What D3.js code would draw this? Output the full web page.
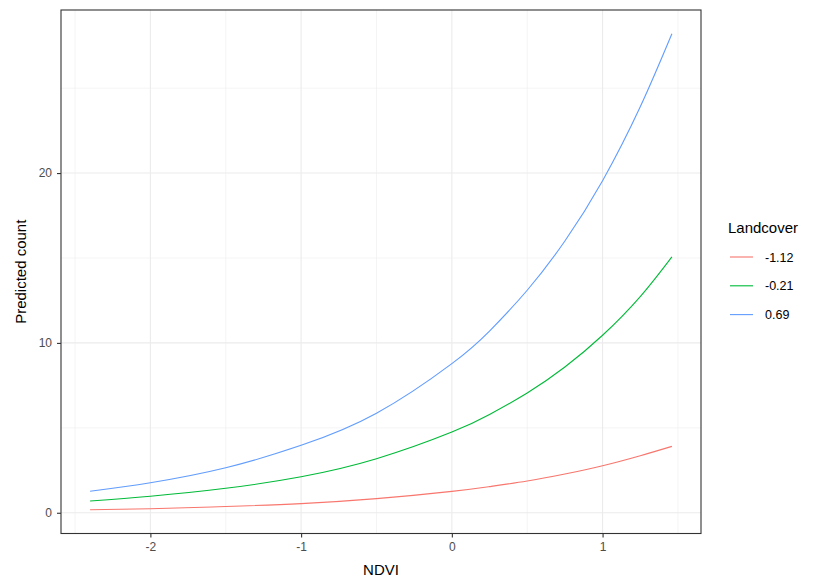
<!DOCTYPE html>
<html><head><meta charset="utf-8">
<script src="https://cdn.jsdelivr.net/npm/d3@7"></script>
<style>body{margin:0;background:#fff}svg{display:block;font-family:"Liberation Sans",Arial,sans-serif}</style>
</head><body>
<svg id="c" width="814" height="580"></svg>
<script>
const ndvi = [-2.4, -2.0, -1.5, -1.0, -0.5, 0.0, 0.25, 0.5, 0.75, 1.0, 1.25, 1.46];
const landcoverLevels = ["-1.12", "-0.21", "0.69"];
const predLow  = [0.18, 0.24, 0.37, 0.54, 0.83, 1.26, 1.54, 1.87, 2.28, 2.77, 3.36, 3.91];
const predMid  = [0.69, 0.97, 1.44, 2.12, 3.18, 4.75, 5.79, 7.05, 8.58, 10.45, 12.73, 15.07];
const predHigh = [1.27, 1.77, 2.65, 3.97, 5.86, 8.78, 10.7, 13.1, 16.0, 19.55, 23.9, 28.2];
const xTicks = [-2, -1, 0, 1];
const yTicks = [0, 10, 20];
const xMinor = [-2.5, -1.5, -0.5, 0.5, 1.5];
const yMinor = [5, 15, 25];
const colors = ["#F8766D", "#00BA38", "#619CFF"];

const series = landcoverLevels.map((lv, i) => ({
  name: lv, color: colors[i],
  values: ndvi.map((x, j) => ({x, y: [predLow, predMid, predHigh][i][j]}))
}));

const svg = d3.select("#c");
const L = 61, R = 701, T = 10, B = 533.5;
const xr = d3.extent(ndvi), xe = (xr[1]-xr[0])*0.05;
const allY = predLow.concat(predMid, predHigh);
const yr = d3.extent(allY), ye = (yr[1]-yr[0])*0.05;
const x = d3.scaleLinear().domain([xr[0]-xe, xr[1]+xe]).range([L, R]);
const y = d3.scaleLinear().domain([yr[0]-ye, yr[1]+ye]).range([B, T]);

const g = svg.append("g");
g.selectAll(".mx").data(xMinor).join("line")
  .attr("x1", d=>x(d)).attr("x2", d=>x(d)).attr("y1", T).attr("y2", B)
  .attr("stroke", "#EBEBEB").attr("stroke-width", 0.55);
g.selectAll(".my").data(yMinor).join("line")
  .attr("y1", d=>y(d)).attr("y2", d=>y(d)).attr("x1", L).attr("x2", R)
  .attr("stroke", "#EBEBEB").attr("stroke-width", 0.55);
g.selectAll(".Mx").data(xTicks).join("line")
  .attr("x1", d=>x(d)).attr("x2", d=>x(d)).attr("y1", T).attr("y2", B)
  .attr("stroke", "#EBEBEB").attr("stroke-width", 1.1);
g.selectAll(".My").data(yTicks).join("line")
  .attr("y1", d=>y(d)).attr("y2", d=>y(d)).attr("x1", L).attr("x2", R)
  .attr("stroke", "#EBEBEB").attr("stroke-width", 1.1);

const line = d3.line().x(d=>x(d.x)).y(d=>y(d.y)).curve(d3.curveNatural);
svg.append("g").selectAll("path").data(series).join("path")
  .attr("d", d=>line(d.values)).attr("fill", "none")
  .attr("stroke", d=>d.color).attr("stroke-width", 1.1);

svg.append("rect").attr("x", L).attr("y", T).attr("width", R-L).attr("height", B-T)
  .attr("fill", "none").attr("stroke", "#333333").attr("stroke-width", 1.1);

const fmt = d => String(d);
const xa = svg.append("g").attr("transform", `translate(0,${B})`)
  .call(d3.axisBottom(x).tickValues(xTicks).tickSize(4).tickPadding(5).tickFormat(fmt));
const ya = svg.append("g").attr("transform", `translate(${L},0)`)
  .call(d3.axisLeft(y).tickValues(yTicks).tickSize(4).tickPadding(5).tickFormat(fmt));
[xa, ya].forEach(a => {
  a.select(".domain").remove();
  a.selectAll(".tick line").attr("stroke", "#333333").attr("stroke-width", 1.1);
  a.selectAll(".tick text").attr("fill", "#4D4D4D").style("font-size", "12px")
    .style("font-family", '"Liberation Sans",Arial,sans-serif');
});

svg.append("text").attr("x", (L+R)/2).attr("y", 575).attr("text-anchor", "middle")
  .style("font-size", "15px").attr("fill", "#000").text("NDVI");
svg.append("text").attr("transform", `translate(26,${(T+B)/2}) rotate(-90)`)
  .attr("text-anchor", "middle").style("font-size", "15px").attr("fill", "#000").text("Predicted count");

const lg = svg.append("g");
lg.append("text").attr("x", 728).attr("y", 233).style("font-size", "15px").attr("fill", "#000").text("Landcover");
const items = lg.selectAll(".it").data(series).join("g")
  .attr("transform", (d, i) => `translate(730,${257 + i*28.8})`);
items.append("line").attr("x1", 0).attr("x2", 23).attr("y1", 0).attr("y2", 0)
  .attr("stroke", d=>d.color).attr("stroke-width", 1.1);
items.append("text").attr("x", 35).attr("y", 4.5).style("font-size", "12.5px").attr("fill", "#000").text(d=>d.name);
</script>
</body></html>
